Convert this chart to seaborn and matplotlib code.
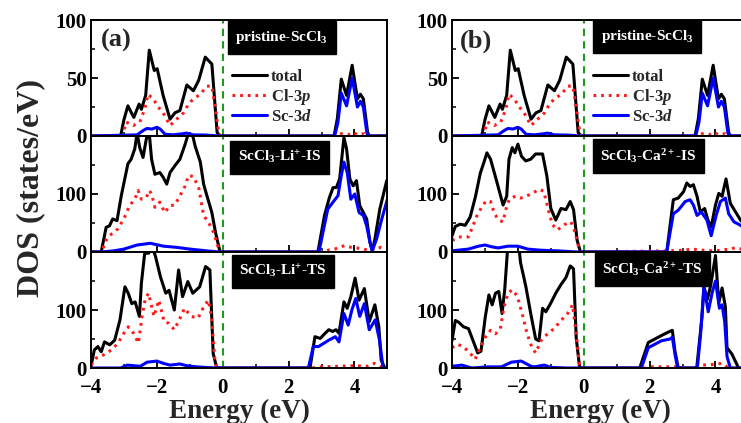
import numpy as np
import pandas as pd
import matplotlib
matplotlib.use("Agg")
import matplotlib.pyplot as plt
import seaborn as sns
from matplotlib.ticker import MultipleLocator

# ---------------- data ----------------
# pristine ScCl3 (identical in (a) and (b))
pri_tot_e = [-4.0, -3.10, -3.00, -2.88, -2.70, -2.54, -2.47, -2.34, -2.23, -2.08, -1.99, -1.81, -1.60, -1.45,
             -1.30, -1.09, -0.89, -0.73, -0.53, -0.33, -0.17, -0.09, 3.38, 3.48, 3.60, 3.76, 3.93, 4.09, 4.18,
             4.27, 4.40, 4.45, 5.0]
pri_tot = [0, 0, 14, 26, 16, 27.5, 23, 35, 74, 56.5, 58, 35, 14.5, 20, 22, 44, 39, 48, 68, 62, 3, 0, 0, 15, 49,
           35, 61, 32, 36, 32, 3, 0, 0]
pri_cl_e = [-4.0, -3.05, -2.93, -2.72, -2.52, -2.37, -2.27, -2.11, -1.96, -1.81, -1.60, -1.40, -1.19, -1.04,
            -0.89, -0.68, -0.48, -0.33, -0.22, -0.12, -0.07, 3.45, 3.6, 3.8, 3.95, 4.1, 4.3, 4.4, 5.0]
pri_cl = [0, 0, 12, 9, 12, 23, 36, 32, 25, 20, 9, 14.5, 20, 27.5, 32, 36, 43, 43, 23, 3, 0, 0, 2, 1, 3, 1, 2, 0, 0]
pri_sc_e = [-4.0, -2.6, -2.4, -2.3, -2.15, -2.0, -1.9, -1.75, -1.5, -1.2, -1.1, -0.9, -0.5, -0.1, 3.40, 3.5,
            3.60, 3.76, 3.93, 4.09, 4.18, 4.27, 4.38, 4.45, 5.0]
pri_sc = [0, 1, 5, 6.5, 6, 7.5, 6, 1.5, 1, 2, 2.5, 1, 0.8, 0, 0, 12, 37, 26, 50, 25, 30, 25, 2, 0, 0]

# ScCl3-Li+-IS
liis_tot_e = [-4.0, -3.69, -3.54, -3.44, -3.34, -3.21, -3.08, -2.88, -2.78, -2.67, -2.60, -2.52, -2.42, -2.32,
              -2.24, -2.16, -2.06, -1.91, -1.81, -1.70, -1.60, -1.45, -1.30, -1.14, -1.04, -0.94, -0.84, -0.68,
              -0.58, -0.48, -0.33, -0.22, -0.09, -0.05, 2.89, 3.09, 3.24, 3.35, 3.45, 3.55, 3.68, 3.76, 3.86,
              3.96, 4.06, 4.16, 4.27, 4.37, 4.47, 4.54, 4.62, 4.77, 4.98, 5.0]
liis_tot = [0, 0, 42.5, 45, 57, 54, 97, 152, 160, 178, 205, 180, 163, 195, 210, 160, 134, 137, 129, 117, 137,
            149, 160, 186, 205, 208, 183, 155, 117, 97, 68, 34, 2, 0, 0, 63, 94, 111, 111, 126, 197, 178, 126,
            114, 123, 80, 68, 57, 17, 2, 22, 74, 123, 125]
liis_cl_e = [-4.0, -3.65, -3.59, -3.44, -3.18, -2.98, -2.83, -2.67, -2.57, -2.47, -2.32, -2.23, -2.16, -2.06,
             -1.91, -1.76, -1.60, -1.45, -1.30, -1.14, -1.04, -0.89, -0.73, -0.58, -0.43, -0.28, -0.12, -0.06,
             2.9, 3.1, 3.4, 3.7, 3.9, 4.2, 4.5, 4.8, 5.0]
liis_cl = [0, 0, 17, 28, 40, 60, 80, 91, 106, 91, 94, 106, 100, 77, 86, 68, 80, 81, 97, 114, 132, 130, 111, 63,
           51, 34, 5, 0, 0, 2, 5, 11, 8, 6, 2, 8, 6]
liis_sc_e = [-4.0, -3.7, -3.3, -3.0, -2.6, -2.2, -1.8, -1.4, -1.0, -0.5, -0.1, 2.92, 3.19, 3.35, 3.50, 3.60,
             3.68, 3.78, 3.89, 4.01, 4.14, 4.27, 4.37, 4.47, 4.54, 4.67, 4.83, 5.0]
liis_sc = [0, 0, 2, 5, 12, 15, 10, 8, 5, 2, 0, 0, 74, 86, 97, 132, 155, 137, 91, 100, 68, 63, 45, 17, 2, 22, 57, 91]

# ScCl3-Li+-TS
lits_tot_e = [-4.0, -3.90, -3.79, -3.69, -3.59, -3.43, -3.28, -3.12, -2.97, -2.87, -2.76, -2.66, -2.53, -2.47,
              -2.37, -2.25, -2.14, -2.04, -1.89, -1.73, -1.63, -1.47, -1.34, -1.22, -1.06, -0.91, -0.70, -0.52,
              -0.39, -0.29, -0.19, -0.12, 2.65, 2.80, 2.96, 3.11, 3.22, 3.34, 3.44, 3.53, 3.68, 3.78, 3.89, 4.02,
              4.14, 4.30, 4.45, 4.62, 4.74, 4.81, 4.92, 5.0]
lits_tot = [3, 31, 37, 28, 45, 40, 48, 83, 140, 129, 111, 114, 89, 146, 198, 198, 210, 192, 157, 129, 134, 100,
            169, 123, 149, 129, 140, 175, 169, 25, 2, 0, 0, 54, 51, 60, 66, 63, 66, 60, 114, 103, 123, 155, 117,
            137, 80, 109, 71, 14, 0, 0]
lits_cl_e = [-4.0, -3.85, -3.64, -3.38, -3.18, -2.97, -2.87, -2.71, -2.56, -2.45, -2.35, -2.25, -2.09, -1.94,
             -1.78, -1.63, -1.47, -1.32, -1.16, -0.96, -0.75, -0.60, -0.44, -0.34, -0.24, -0.17, 2.7, 3.0, 3.5,
             4.0, 4.4, 4.6, 4.75, 4.85, 5.0]
lits_cl = [5, 17, 22, 31, 43, 63, 71, 60, 43, 89, 120, 129, 89, 117, 80, 77, 66, 83, 103, 89, 86, 103, 117, 89,
           14, 0, 0, 2, 3, 4, 3, 8, 4, 0, 0]
lits_sc_e = [-4.0, -3.1, -2.9, -2.7, -2.5, -2.3, -2.0, -1.8, -1.6, -1.3, -1.1, -0.8, -0.2, 2.60, 2.75, 2.91,
             3.22, 3.42, 3.53, 3.68, 3.81, 3.92, 4.04, 4.16, 4.30, 4.45, 4.63, 4.76, 4.87, 5.0]
lits_sc = [0, 0, 5, 4, 3, 10, 12, 8, 5, 7, 4, 2, 0, 0, 37, 37, 48, 54, 45, 94, 74, 100, 120, 89, 111, 66, 83,
           48, 0, 0]

# ScCl3-Ca2+-IS
cais_tot_e = [-4.0, -3.90, -3.75, -3.60, -3.45, -3.29, -3.14, -3.04, -2.94, -2.83, -2.63, -2.45, -2.34, -2.27,
              -2.17, -2.09, -2.00, -1.89, -1.76, -1.61, -1.46, -1.25, -1.12, -1.00, -0.85, -0.69, -0.54, -0.41,
              -0.31, -0.20, -0.10, 2.52, 2.72, 2.87, 3.03, 3.13, 3.23, 3.33, 3.44, 3.54, 3.67, 3.77, 3.87, 4.00,
              4.10, 4.20, 4.32, 4.45, 4.61, 4.76, 5.0]
cais_tot = [28, 44, 48, 46, 60, 95, 136, 153, 171, 160, 119, 81, 96, 160, 180, 171, 186, 165, 157, 160, 169,
            169, 131, 75, 55, 75, 73, 87, 73, 20, 0, 0, 90, 93, 104, 119, 113, 116, 96, 69, 75, 55, 43, 81, 101,
            96, 126, 84, 69, 55, 40]
cais_cl_e = [-4.0, -3.75, -3.50, -3.40, -3.24, -3.09, -2.97, -2.83, -2.71, -2.58, -2.45, -2.32, -2.22, -2.07,
             -1.92, -1.76, -1.56, -1.36, -1.22, -1.15, -1.05, -0.95, -0.80, -0.59, -0.39, -0.27, -0.18, -0.10,
             2.6, 3.0, 3.3, 3.6, 3.9, 4.2, 4.6, 4.8, 5.0]
cais_cl = [20, 26, 26, 40, 63, 78, 88, 87, 66, 55, 52, 84, 93, 96, 93, 96, 101, 108, 105, 90, 67, 47, 38, 47,
           52, 35, 14, 0, 2, 3, 5, 3, 2, 3, 7, 5, 5]
cais_sc_e = [-4.0, -3.5, -3.2, -3.0, -2.8, -2.6, -2.3, -2.0, -1.7, -1.3, -0.8, -0.2, 2.52, 2.72, 2.87, 3.08,
             3.23, 3.33, 3.44, 3.57, 3.74, 3.87, 4.02, 4.15, 4.30, 4.40, 4.56, 4.76, 5.0]
cais_sc = [2, 5, 10, 12, 9, 7, 10, 10, 5, 3, 2, 0, 0, 66, 72, 87, 90, 81, 63, 69, 55, 28, 63, 87, 93, 66, 52,
           46, 35]

# ScCl3-Ca2+-TS
cats_tot_e = [-4.0, -3.90, -3.80, -3.65, -3.50, -3.34, -3.22, -3.12, -2.99, -2.88, -2.78, -2.68, -2.58, -2.48,
              -2.40, -2.30, -2.15, -1.97, -1.92, -1.76, -1.61, -1.46, -1.36, -1.25, -1.15, -1.00, -0.85, -0.69,
              -0.54, -0.41, -0.31, -0.23, -0.13, -0.08, 1.70, 1.96, 2.16, 2.36, 2.57, 2.69, 2.77, 2.87, 3.43,
              3.59, 3.65, 3.75, 3.85, 4.00, 4.10, 4.20, 4.30, 4.35, 4.50, 4.70, 5.0]
cats_tot = [47, 82, 79, 71, 68, 44, 26, 29, 88, 126, 109, 129, 132, 94, 135, 215, 230, 210, 182, 141, 94, 50,
            47, 103, 97, 112, 129, 144, 156, 176, 171, 53, 3, 0, 0, 44, 50, 56, 62, 65, 29, 0, 0, 88, 140, 118,
            141, 194, 112, 138, 106, 35, 24, 0, 0]
cats_cl_e = [-4.0, -3.85, -3.70, -3.50, -3.30, -3.14, -2.99, -2.83, -2.68, -2.53, -2.43, -2.30, -2.17, -2.02,
             -1.87, -1.72, -1.57, -1.46, -1.30, -1.10, -0.90, -0.69, -0.49, -0.34, -0.23, -0.13, -0.08, 1.9,
             2.0, 2.8, 2.9, 3.5, 3.6, 3.9, 4.2, 4.4, 5.0]
cats_cl = [35, 41, 38, 29, 15, 35, 53, 65, 59, 68, 103, 129, 135, 124, 94, 59, 35, 26, 47, 59, 68, 82, 94, 109,
           59, 6, 0, 0, 2, 2, 0, 0, 5, 6, 8, 0, 0]
cats_sc_e = [-4.0, -3.7, -3.4, -2.9, -2.5, -2.2, -1.9, -1.6, -1.5, -1.2, -1.0, -0.5, 1.75, 1.96, 2.16, 2.36,
             2.62, 2.69, 2.77, 2.85, 3.45, 3.55, 3.65, 3.78, 3.90, 4.00, 4.12, 4.20, 4.28, 4.35, 4.45, 5.0]
cats_sc = [3, 5, 0, 2, 2, 10, 12, 3, 2, 5, 1, 0, 0, 35, 41, 47, 50, 53, 24, 0, 0, 60, 141, 97, 130, 150, 103,
           109, 80, 20, 0, 0]

panel_names_a = ["pristine-ScCl$_3$", "ScCl$_3$-Li$^{+}$-IS", "ScCl$_3$-Li$^{+}$-TS"]
panel_names_b = ["pristine-ScCl$_3$", "ScCl$_3$-Ca$^{2+}$-IS", "ScCl$_3$-Ca$^{2+}$-TS"]
legend_labels = ["total", "Cl-3$p$", "Sc-3$d$"]
panel_tags = ["(a)", "(b)"]
fermi_level = 0.0

col_a = [(pri_tot_e, pri_tot, pri_cl_e, pri_cl, pri_sc_e, pri_sc),
         (liis_tot_e, liis_tot, liis_cl_e, liis_cl, liis_sc_e, liis_sc),
         (lits_tot_e, lits_tot, lits_cl_e, lits_cl, lits_sc_e, lits_sc)]
col_b = [(pri_tot_e, pri_tot, pri_cl_e, pri_cl, pri_sc_e, pri_sc),
         (cais_tot_e, cais_tot, cais_cl_e, cais_cl, cais_sc_e, cais_sc),
         (cats_tot_e, cats_tot, cats_cl_e, cats_cl, cats_sc_e, cats_sc)]

# ---------------- style ----------------
sns.set_theme(style="ticks")
plt.rcParams.update({
    "font.family": ["Liberation Serif", "DejaVu Serif"],
    "font.weight": "bold",
    "axes.labelweight": "bold",
    "mathtext.fontset": "custom",
    "mathtext.rm": "Liberation Serif:bold",
    "mathtext.it": "Liberation Serif:italic:bold",
    "mathtext.bf": "Liberation Serif:bold",
    "axes.linewidth": 1.4,
    "axes.edgecolor": "black",
    "xtick.direction": "in",
    "ytick.direction": "in",
    "xtick.color": "black",
    "ytick.color": "black",
})

fig = plt.figure(figsize=(7.41, 4.23), dpi=100)
H = 0.2742
bottoms = [0.6785, 0.4043, 0.1300]
lefts = [0.1228, 0.610]
W = 0.400

BLACK, RED, BLUE = "#000000", "#ff1a1a", "#0000ff"
GREEN = "#1f9a1f"

label_pos = {0: [(0.643, 0.85), (0.636, 0.815), (0.648, 0.83)],
             1: [(0.659, 0.858), (0.663, 0.828), (0.676, 0.85)]}

for c, (col, names) in enumerate([(col_a, panel_names_a), (col_b, panel_names_b)]):
    for r, (te, tv, ce, cv, se, sv) in enumerate(col):
        ax = fig.add_axes([lefts[c], bottoms[r], W, H])
        top = (r == 0)
        sns.lineplot(x=te, y=tv, ax=ax, color=BLACK, lw=2.2, sort=False, estimator=None,
                     label=legend_labels[0] if top else None, legend=top)
        sns.lineplot(x=ce, y=cv, ax=ax, color=RED, lw=2.2, linestyle=(0, (0.9, 1.6)), sort=False,
                     estimator=None, label=legend_labels[1] if top else None, legend=top)
        sns.lineplot(x=se, y=sv, ax=ax, color=BLUE, lw=2.2, sort=False, estimator=None,
                     label=legend_labels[2] if top else None, legend=top)
        ax.axvline(fermi_level, color=GREEN, lw=1.5, ls=(0, (3.5, 2.5)), zorder=1)

        ax.set_xlim(-4, 5)
        if top:
            ax.set_ylim(0, 100)
            ax.set_yticks([0, 50, 100])
            ax.set_yticklabels(["0", "50", "100"])
            ax.yaxis.set_minor_locator(MultipleLocator(25))
        else:
            ax.set_ylim(0, 200)
            ax.set_yticks([0, 100, 200])
            ax.set_yticklabels(["0", "100", ""])
            ax.yaxis.set_minor_locator(MultipleLocator(50))
        ax.xaxis.set_major_locator(MultipleLocator(2))
        ax.xaxis.set_minor_locator(MultipleLocator(1))
        ax.tick_params(which="major", length=5, width=1.3, labelsize=15, pad=3)
        ax.tick_params(axis="x", which="major", pad=7)
        ax.tick_params(which="minor", length=3, width=1.1)
        ax.tick_params(axis="both", top=False, right=False)
        for lab in ax.get_xticklabels() + ax.get_yticklabels():
            lab.set_fontweight("bold")
        for sp in ax.spines.values():
            sp.set_visible(True)
            sp.set_linewidth(1.4)
            sp.set_color("black")
        if r == 2:
            ax.set_xlabel("Energy (eV)", fontsize=19.5, fontweight="bold", labelpad=0.5)
        else:
            ax.tick_params(axis="x", labelbottom=False)
            ax.set_xlabel("")
        ax.set_ylabel("")

        lx, ly = label_pos[c][r]
        ax.text(lx, ly, names[r], transform=ax.transAxes, ha="center", va="center", color="white",
                fontsize=11, fontweight="bold", zorder=10,
                bbox=dict(boxstyle="square,pad=0.5", facecolor="black", edgecolor="black"))

        if top:
            ax.text(0.035 if c == 0 else 0.025, 0.82, panel_tags[c], transform=ax.transAxes,
                    fontsize=19, fontweight="bold", va="center", ha="left")
            handles, labels = ax.get_legend_handles_labels()
            ax.legend(handles, labels, loc="center left", bbox_to_anchor=(0.475, 0.34), frameon=False,
                      handlelength=2.1, handletextpad=0.25, labelspacing=0.12,
                      borderpad=0.0, borderaxespad=0.0, prop={"weight": "bold", "size": 12})

fig.text(0.042, 0.555, "DOS (states/eV)", rotation=90, ha="center", va="center",
         fontsize=23, fontweight="bold")

fig.savefig("out.png", dpi=100)
